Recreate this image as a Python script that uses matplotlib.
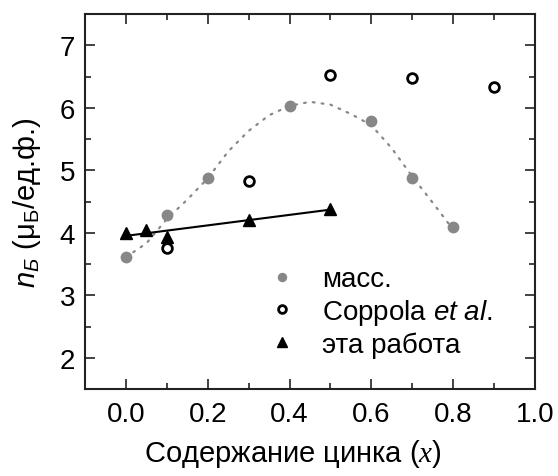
import numpy as np
import matplotlib
matplotlib.use("Agg")
import matplotlib.pyplot as plt

plt.rcParams['font.family'] = ['Liberation Sans', 'DejaVu Sans']
plt.rcParams['mathtext.fontset'] = 'custom'
plt.rcParams['mathtext.rm'] = 'Liberation Sans'
plt.rcParams['mathtext.it'] = 'Liberation Sans:italic'
plt.rcParams['mathtext.cal'] = 'Liberation Serif:italic'

# Data
mass_x = [0.0, 0.1, 0.2, 0.4, 0.6, 0.7, 0.8]
mass_y = [3.61, 4.29, 4.87, 6.03, 5.79, 4.87, 4.09]

coppola_x = [0.1, 0.3, 0.5, 0.7, 0.9]
coppola_y = [3.75, 4.83, 6.53, 6.48, 6.33]

work_x = [0.0, 0.05, 0.1, 0.3, 0.5]
work_y = [4.00, 4.05, 3.93, 4.20, 4.38]

fit_x = [0.0, 0.5]
fit_y = [3.95, 4.37]

curve_x = [0.0, 0.05, 0.1, 0.15, 0.2, 0.25, 0.3, 0.35, 0.4, 0.45, 0.5,
           0.55, 0.6, 0.65, 0.7, 0.75, 0.8]
curve_y = [3.61, 3.83, 4.22, 4.53, 4.87, 5.30, 5.63, 5.88, 6.03, 6.095, 6.05,
           5.90, 5.72, 5.35, 4.90, 4.48, 4.05]

x_ticks = [0.0, 0.2, 0.4, 0.6, 0.8, 1.0]
y_ticks = [2, 3, 4, 5, 6, 7]

fig = plt.figure(figsize=(5.58, 4.77), dpi=100)
ax = fig.add_axes([85/558, 87/477, 450/558, 375/477])

ax.plot(curve_x, curve_y, color='#888888', lw=1.6, linestyle=(0, (0.8, 3.2)),
        dash_capstyle='round', zorder=1)
ax.plot(fit_x, fit_y, color='black', lw=1.5, zorder=2)
ax.plot(mass_x, mass_y, 'o', color='#878787', ms=8.5, mec='none', zorder=3,
        label='масс.')
ax.plot(coppola_x, coppola_y, 'o', mfc='white', mec='black', mew=2.0, ms=7,
        zorder=3, label=r'Coppola $\mathit{et\ al.}$')
ax.plot(work_x, work_y, '^', color='black', ms=9, zorder=4, label='эта работа')

ax.set_xlim(-0.1, 1.0)
ax.set_ylim(1.5, 7.5)
ax.set_xticks(x_ticks)
ax.set_xticklabels([f"{v:.1f}" for v in x_ticks])
ax.set_yticks(y_ticks)
ax.set_xticks(np.arange(-0.1, 1.0, 0.2), minor=True)
ax.set_yticks(np.arange(1.5, 7.6, 1.0), minor=True)

ax.tick_params(which='both', direction='in', top=True, right=True, width=1.2,
               color='#222222')
ax.tick_params(which='major', length=7, labelsize=20)
ax.tick_params(axis='x', which='major', pad=9)
ax.tick_params(axis='y', which='major', pad=7)
ax.tick_params(which='minor', length=4)
for s in ax.spines.values():
    s.set_linewidth(1.5)
    s.set_color('#222222')

ax.set_xlabel(r'Содержание цинка ($\mathcal{x}$)', fontsize=21)
ax.xaxis.set_label_coords(0.462, -0.128)
ax.set_ylabel(r'$\mathit{n}_{\mathit{Б}}$ (μ$_{\mathregular{Б}}$/ед.ф.)',
              fontsize=21)
ax.yaxis.set_label_coords(-0.094, 0.5)

ax.legend(loc='upper left', bbox_to_anchor=(0.40, 0.327), frameon=False,
          fontsize=20, handletextpad=0.84, labelspacing=0.16, borderaxespad=0,
          borderpad=0, handlelength=1.2, markerscale=0.8)

fig.savefig('out.png', dpi=100)
